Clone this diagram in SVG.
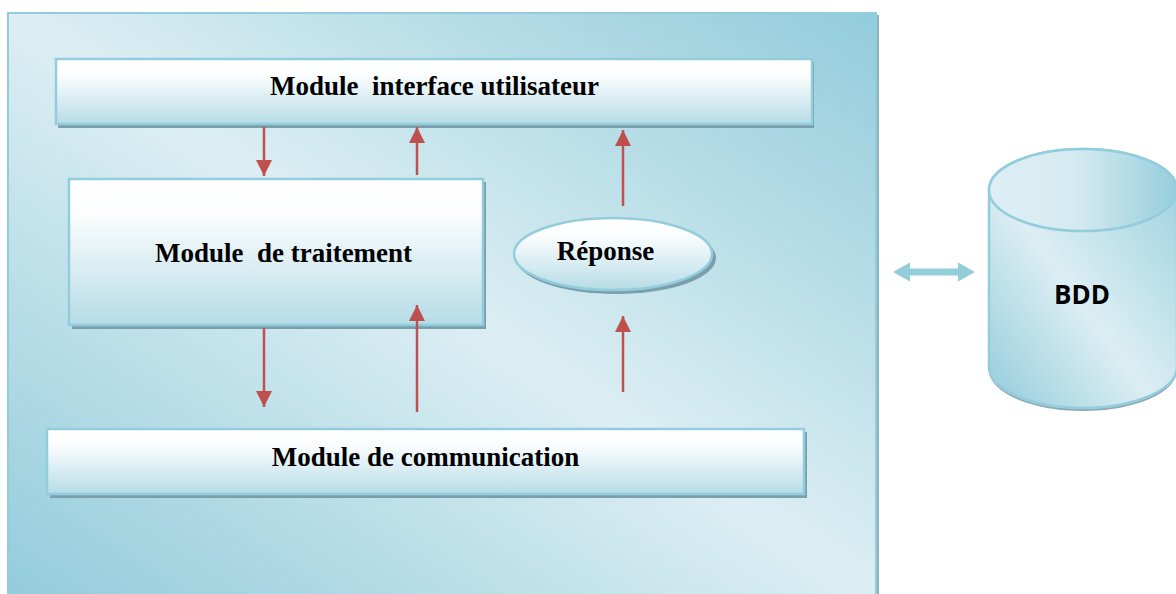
<svg xmlns="http://www.w3.org/2000/svg" width="1176" height="594" viewBox="0 0 1176 594">
  <defs>
    <linearGradient id="bgGrad" x1="1" y1="0" x2="0" y2="1">
      <stop offset="0" stop-color="#92CCDB"/>
      <stop offset="0.5" stop-color="#DCEEF3"/>
      <stop offset="1" stop-color="#93CCDB"/>
    </linearGradient>
    <linearGradient id="boxGrad" x1="0" y1="0" x2="0" y2="1">
      <stop offset="0" stop-color="#FFFFFF"/>
      <stop offset="0.25" stop-color="#FBFDFE"/>
      <stop offset="1" stop-color="#B6DCE6"/>
    </linearGradient>
    <linearGradient id="cylGrad" x1="0" y1="1" x2="1" y2="0">
      <stop offset="0" stop-color="#93CCDB"/>
      <stop offset="0.45" stop-color="#DCEEF3"/>
      <stop offset="1" stop-color="#98CFDD"/>
    </linearGradient>
    <linearGradient id="topGrad" x1="0" y1="0.5" x2="1" y2="0.5">
      <stop offset="0" stop-color="#DDEFF4"/>
      <stop offset="0.45" stop-color="#D6EBF1"/>
      <stop offset="1" stop-color="#96CEDC"/>
    </linearGradient>
    <marker id="ah" viewBox="0 0 16 16" refX="16" refY="8" markerWidth="16" markerHeight="16" markerUnits="userSpaceOnUse" orient="auto">
      <path d="M0,0 L16,8 L0,16 z" fill="#C0504D"/>
    </marker>
    <style>
      .box { fill: url(#boxGrad); stroke: #93CDDD; stroke-width: 2.5; }
      .shadow { fill: #7A9FAB; }
      .lbl { font-family: "Liberation Serif", "Times New Roman", serif; font-weight: bold; font-size: 27px; fill: #000; text-anchor: middle; }
      .arrow { stroke: #C0504D; stroke-width: 2.5; fill: none; marker-end: url(#ah); }
    </style>
  </defs>

  <g id="container">
    <rect x="10" y="15" width="869" height="581" fill="#8FB3BE"/>
    <rect x="8" y="13" width="868" height="582" fill="url(#bgGrad)" stroke="#93CDDD" stroke-width="2"/>
  </g>

  <g id="node-interface">
    <rect class="shadow" x="58" y="62" width="756" height="66"/>
    <rect class="box" x="56" y="59" width="756" height="65"/>
    <text class="lbl" x="434.5" y="95" xml:space="preserve">Module  interface utilisateur</text>
  </g>

  <g id="node-traitement">
    <rect class="shadow" x="72" y="182" width="414" height="147"/>
    <rect class="box" x="69" y="179" width="414" height="146"/>
    <text class="lbl" x="283.5" y="262" xml:space="preserve">Module  de traitement</text>
  </g>

  <g id="node-reponse">
    <ellipse cx="616" cy="258" rx="100" ry="36" fill="#7A9FAB"/>
    <ellipse cx="613" cy="254" rx="99" ry="36" fill="url(#boxGrad)" stroke="#93CDDD" stroke-width="2.5"/>
    <text class="lbl" x="605.5" y="260">Réponse</text>
  </g>

  <g id="node-communication">
    <rect class="shadow" x="50" y="432" width="757" height="66"/>
    <rect class="box" x="47" y="429" width="757" height="65"/>
    <text class="lbl" x="425.5" y="466">Module de communication</text>
  </g>

  <g id="node-bdd">
    <path d="M989,370 A94,41 0 0 0 1177,370 L1177,360 L989,360 Z" fill="#8FA9B2"/>
    <path d="M989,190 L989,367 A94,41 0 0 0 1177,367 L1177,190 A94,41 0 0 0 989,190 Z" fill="url(#cylGrad)" stroke="#93CDDD" stroke-width="2.5"/>
    <ellipse cx="1083" cy="190" rx="94" ry="41" fill="url(#topGrad)" stroke="#93CDDD" stroke-width="2.5"/>
    <text x="1082" y="304" text-anchor="middle" font-family="'Open Sans', 'Noto Sans', 'Liberation Sans', sans-serif" font-weight="bold" font-size="26" fill="#000">BDD</text>
  </g>

  <g id="connectors">
    <line class="arrow" x1="264" y1="127" x2="264" y2="176"/>
    <line class="arrow" x1="417" y1="175" x2="417" y2="127"/>
    <line class="arrow" x1="623" y1="206" x2="623" y2="130"/>
    <line class="arrow" x1="264" y1="328" x2="264" y2="407"/>
    <line class="arrow" x1="417" y1="412" x2="417" y2="305"/>
    <line class="arrow" x1="623" y1="392" x2="623" y2="316"/>
    <polygon points="893,272 910,262.5 910,268.5 958,268.5 958,262.5 975,272 958,281.5 958,275.5 910,275.5 910,281.5" fill="#92CDDC"/>
  </g>
</svg>
